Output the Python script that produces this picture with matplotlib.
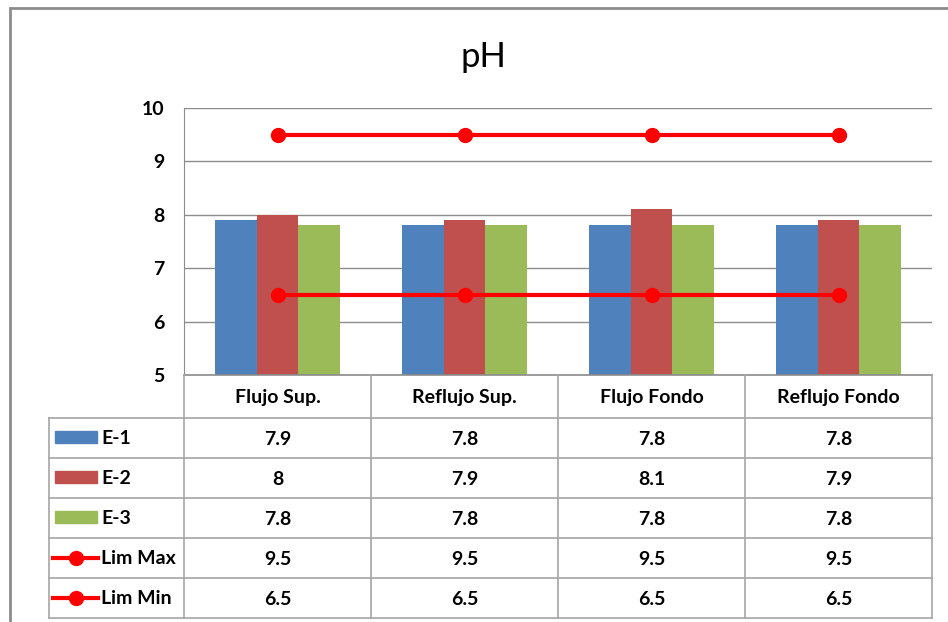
import matplotlib
matplotlib.use("Agg")
import matplotlib.pyplot as plt
from matplotlib.patches import Rectangle
import numpy as np

plt.rcParams["font.family"] = ["Lato", "DejaVu Sans"]

categories = ["Flujo Sup.", "Reflujo Sup.", "Flujo Fondo", "Reflujo Fondo"]
e1 = [7.9, 7.8, 7.8, 7.8]
e2 = [8, 7.9, 8.1, 7.9]
e3 = [7.8, 7.8, 7.8, 7.8]
lim_max = [9.5, 9.5, 9.5, 9.5]
lim_min = [6.5, 6.5, 6.5, 6.5]
bar_series = [("E-1", e1, "#4F81BD"), ("E-2", e2, "#C0504D"), ("E-3", e3, "#9BBB59")]
line_series = [("Lim Max", lim_max), ("Lim Min", lim_min)]

W, H = 948, 622
fig = plt.figure(figsize=(W / 100, H / 100), dpi=100)


def box(x0, y0, x1, y1):
    # pixel box (top-left origin) -> figure fraction rect
    return [x0 / W, 1 - y1 / H, (x1 - x0) / W, (y1 - y0) / H]


# outer chart border
fig.patches.append(Rectangle((10 / W, -0.05), 1.1, 1 - 8 / H + 0.05,
                             transform=fig.transFigure, fill=False,
                             edgecolor="#8C8C8C", linewidth=2))

ax = fig.add_axes(box(184, 108, 932, 375))
x = np.arange(len(categories))
bw = 0.224
for i, (name, vals, col) in enumerate(bar_series):
    ax.bar(x + (i - 1) * bw, np.array(vals) - 5, bw, bottom=5, color=col, zorder=3)
for name, vals in line_series:
    ax.plot(x, vals, "-o", color="#FF0000", linewidth=3, markersize=10, zorder=4)

ax.set_xlim(-0.5, 3.5)
ax.set_ylim(5, 10)
ax.set_yticks(range(5, 11))
ax.set_xticks([])
ax.grid(axis="y", color="#8C8C8C", linewidth=1, zorder=0)
for s in ["top", "right", "bottom"]:
    ax.spines[s].set_visible(False)
ax.spines["left"].set_color("#8C8C8C")
ax.tick_params(axis="y", length=0, pad=14, labelsize=14)
for lab in ax.get_yticklabels():
    lab.set_fontweight("bold")

fig.text(483 / W, 1 - 57 / H, "pH", fontsize=25, ha="center", va="center")

# tabla de datos
tax = fig.add_axes(box(49, 375, 932, 618))
left = -0.5 - 135 / 187
tax.set_xlim(left, 3.5)
rows = [0, 1.075, 2.075, 3.075, 4.075, 5.075, 6.075]
tax.set_ylim(rows[-1], 0)
tax.axis("off")
lc = "#A6A6A6"
tax.plot([-0.5, 3.5], [0, 0], color="#8C8C8C", lw=1.2, clip_on=False)
for yv in rows[1:]:
    tax.plot([left, 3.5], [yv, yv], color=lc, lw=1.2, clip_on=False)
tax.plot([left, left], [rows[1], rows[-1]], color=lc, lw=1.2, clip_on=False)
for xv in np.arange(-0.5, 4.0, 1.0):
    tax.plot([xv, xv], [0, rows[-1]], color=lc, lw=1.2, clip_on=False)

for j, c in enumerate(categories):
    tax.text(j, rows[1] / 2 + 0.02, c, ha="center", va="center", fontsize=14,
             fontweight="bold")

labels = [s[0] for s in bar_series] + [s[0] for s in line_series]
values = [s[1] for s in bar_series] + [s[1] for s in line_series]
key_x0 = left + 6 / 187
key_x1 = left + 48 / 187
for r, (lab, vals) in enumerate(zip(labels, values)):
    yc = (rows[r + 1] + rows[r + 2]) / 2
    if r < 3:
        tax.add_patch(Rectangle((key_x0, yc - 0.17), key_x1 - key_x0, 0.3,
                                color=bar_series[r][2], clip_on=False))
    else:
        tax.plot([key_x0 - 0.01, key_x1 + 0.005], [yc, yc], color="#FF0000",
                 lw=3, clip_on=False)
        tax.plot([(key_x0 + key_x1) / 2], [yc], "o", color="#FF0000", ms=10,
                 clip_on=False)
    tax.text(left + 52 / 187, yc, lab, ha="left", va="center", fontsize=14,
             fontweight="bold")
    for j, v in enumerate(vals):
        tax.text(j, yc + 0.03, f"{v:g}", ha="center", va="center", fontsize=14,
                 fontweight="bold")

fig.savefig("out.png", dpi=100)
